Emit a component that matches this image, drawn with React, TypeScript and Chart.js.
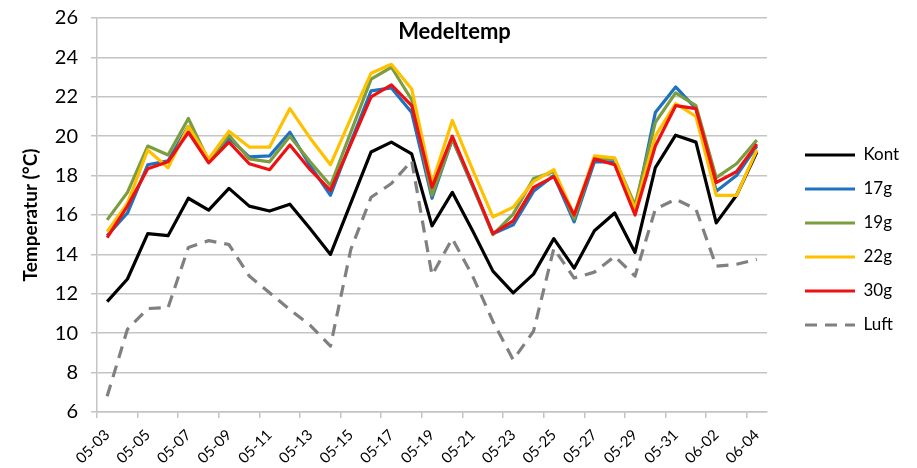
import React, { useEffect, useRef } from 'react';
import { Chart, registerables } from 'chart.js';

Chart.register(...registerables);

const TITLE = 'Medeltemp';
const Y_TITLE = 'Temperatur (°C)';

const dates = [
  '05-03', '05-04', '05-05', '05-06', '05-07', '05-08', '05-09', '05-10', '05-11', '05-12',
  '05-13', '05-14', '05-15', '05-16', '05-17', '05-18', '05-19', '05-20', '05-21', '05-22',
  '05-23', '05-24', '05-25', '05-26', '05-27', '05-28', '05-29', '05-30', '05-31', '06-01',
  '06-02', '06-03', '06-04',
];

const kont = [
  11.6, 12.75, 15.05, 14.95, 16.85, 16.25, 17.35, 16.45, 16.2, 16.55,
  15.3, 14.0, 16.6, 19.2, 19.7, 19.1, 15.45, 17.15, 15.2, 13.15,
  12.05, 13.0, 14.8, 13.3, 15.2, 16.1, 14.1, 18.4, 20.05, 19.7,
  15.6, 17.0, 19.2,
];

const g17 = [
  14.95, 16.1, 18.55, 18.75, 20.5, 18.75, 19.9, 18.95, 19.0, 20.2,
  18.5, 17.0, 19.7, 22.3, 22.45, 21.2, 16.85, 19.85, 17.45, 15.05,
  15.5, 17.2, 18.0, 15.65, 18.7, 18.7, 16.2, 21.2, 22.5, 21.4,
  17.2, 18.0, 19.5,
];

const g19 = [
  15.75, 17.15, 19.5, 19.05, 20.9, 18.75, 20.05, 18.85, 18.7, 20.0,
  18.7, 17.5, 20.2, 22.9, 23.5, 21.85, 17.0, 19.85, 17.5, 15.0,
  16.05, 17.85, 18.2, 15.8, 18.9, 18.85, 16.5, 20.7, 22.2, 21.55,
  17.9, 18.6, 19.8,
];

const g22 = [
  15.15, 16.6, 19.3, 18.4, 20.5, 18.85, 20.25, 19.45, 19.45, 21.4,
  19.9, 18.55, 20.9, 23.2, 23.65, 22.4, 17.6, 20.8, 18.3, 15.9,
  16.4, 17.7, 18.3, 16.0, 19.0, 18.9, 16.3, 20.0, 21.65, 21.0,
  17.0, 17.0, 19.3,
];

const g30 = [
  14.85, 16.45, 18.35, 18.7, 20.2, 18.65, 19.7, 18.6, 18.3, 19.55,
  18.3, 17.25, 19.6, 22.0, 22.6, 21.55, 17.4, 20.0, 17.55, 15.05,
  15.7, 17.4, 17.95, 16.0, 18.85, 18.55, 16.0, 19.5, 21.55, 21.4,
  17.65, 18.2, 19.6,
];

const luft = [
  6.8, 10.2, 11.25, 11.3, 14.35, 14.7, 14.5, 12.9, 12.05, 11.2,
  10.4, 9.35, 14.25, 16.9, 17.6, 18.75, 12.95, 14.8, 12.9, 10.6,
  8.65, 10.1, 14.3, 12.8, 13.1, 13.9, 12.9, 16.3, 16.8, 16.3,
  13.4, 13.5, 13.75,
];

const Y_MIN = 6;
const Y_MAX = 26;
const Y_STEP = 2;

const FONT = 'Lato';
const GRID = '#c4c4c4';

export default function App() {
  const ref = useRef<HTMLCanvasElement>(null);

  useEffect(() => {
    const canvas = ref.current;
    if (!canvas) return;

    const series = [
      { label: 'Kont', data: kont, color: '#000000', dash: [] as number[], order: 5 },
      { label: '17g', data: g17, color: '#1f72c0', dash: [], order: 4 },
      { label: '19g', data: g19, color: '#7a9d40', dash: [], order: 3 },
      { label: '22g', data: g22, color: '#ffc000', dash: [], order: 2 },
      { label: '30g', data: g30, color: '#ee1111', dash: [], order: 1 },
      { label: 'Luft', data: luft, color: '#808080', dash: [12, 8], order: 0 },
    ];

    const titlePlugin = {
      id: 'overlayTitle',
      afterDraw(chart: any) {
        const ctx = chart.ctx;
        ctx.save();
        ctx.font = `bold 22px ${FONT}`;
        ctx.fillStyle = '#000';
        ctx.textAlign = 'center';
        ctx.textBaseline = 'middle';
        ctx.fillText(TITLE, chart.width / 2 - 4, chart.chartArea.top + 14);
        ctx.restore();
      },
    };

    const legendLayout = {
      id: 'legendLayout',
      beforeLayout(chart: any) {
        const lg = chart.legend;
        if (lg && !lg.__patched) {
          const orig = lg.fit.bind(lg);
          lg.fit = () => {
            orig();
            lg.width = 150;
          };
          lg.__patched = true;
        }
      },
      afterLayout(chart: any) {
        const lg = chart.legend;
        if (!lg) return;
        const pad = lg.options.labels.padding;
        lg.left = chart.chartArea.right + 38 - pad;
        lg.right = chart.width;
        lg.width = lg.right - lg.left;
        lg.top = 43;
        lg.bottom = 437;
        lg.height = lg.bottom - lg.top;
      },
    };

    const chart = new Chart(canvas, {
      type: 'line',
      data: {
        labels: dates,
        datasets: series.map((s) => ({
          label: s.label,
          data: s.data,
          borderColor: s.color,
          backgroundColor: s.color,
          borderWidth: 3.2,
          borderDash: s.dash,
          pointRadius: 0,
          pointHoverRadius: 0,
          pointBorderWidth: 3,
          pointStyle: 'line',
          tension: 0,
          fill: false,
          order: s.order,
          borderJoinStyle: 'round',
        })),
      },
      options: {
        animation: false,
        responsive: false,
        devicePixelRatio: 1,
        layout: { padding: { top: 18, left: 0, right: 0, bottom: 0 } },
        plugins: {
          title: { display: false },
          tooltip: { enabled: false },
          legend: {
            position: 'right',
            align: 'center',
            labels: {
              usePointStyle: true,
              pointStyleWidth: 50,
              padding: 17,
              color: '#000',
              font: { family: FONT, size: 17 },
              sort: (a: any, b: any) => a.datasetIndex - b.datasetIndex,
              generateLabels: (c: any) => {
                const items = (Chart.defaults.plugins.legend.labels as any).generateLabels(c);
                return items.map((it: any) => {
                  const ds = c.data.datasets[it.datasetIndex];
                  return {
                    ...it,
                    lineWidth: 3,
                    lineDash: ds.borderDash || [],
                    strokeStyle: ds.borderColor,
                    pointStyle: 'line',
                  };
                });
              },
            },
          },
        },
        scales: {
          x: {
            type: 'category',
            offset: true,
            afterFit: (scale: any) => {
              scale.height = 56;
            },
            grid: {
              offset: true,
              drawOnChartArea: false,
              drawTicks: true,
              tickLength: 6,
              lineWidth: 1.5,
              color: (ctx: any) => (ctx.index !== undefined && ctx.index % 2 === 0 ? GRID : 'rgba(0,0,0,0)'),
            },
            border: { display: true, color: GRID, width: 1.5 },
            ticks: {
              autoSkip: false,
              minRotation: 45,
              maxRotation: 45,
              padding: 8,
              color: '#000',
              font: { family: FONT, size: 15 },
              callback: (_v: any, i: number) => (i % 2 === 0 ? dates[i] : ''),
            },
          },
          y: {
            min: Y_MIN,
            max: Y_MAX,
            afterFit: (scale: any) => {
              scale.width = 97;
              scale.paddingTop = 0;
              scale.paddingBottom = 0;
            },
            grid: {
              color: GRID,
              lineWidth: 1.5,
              drawTicks: true,
              tickLength: 6,
            },
            border: { display: true, color: GRID, width: 1.5 },
            ticks: {
              stepSize: Y_STEP,
              padding: 13,
              color: '#000',
              font: { family: FONT, size: 20 },
            },
            title: {
              display: true,
              text: Y_TITLE,
              color: '#000',
              font: { family: FONT, size: 19, weight: 'bold' },
              padding: { top: 19, bottom: 0 },
            },
          },
        },
      },
      plugins: [titlePlugin, legendLayout],
    } as any);

    return () => chart.destroy();
  }, []);

  return (
    <div style={{ position: 'fixed', left: 0, top: 0, width: 917, height: 468, background: '#fff' }}>
      <canvas ref={ref} width={917} height={468} style={{ display: 'block', width: 917, height: 468 }} />
    </div>
  );
}
